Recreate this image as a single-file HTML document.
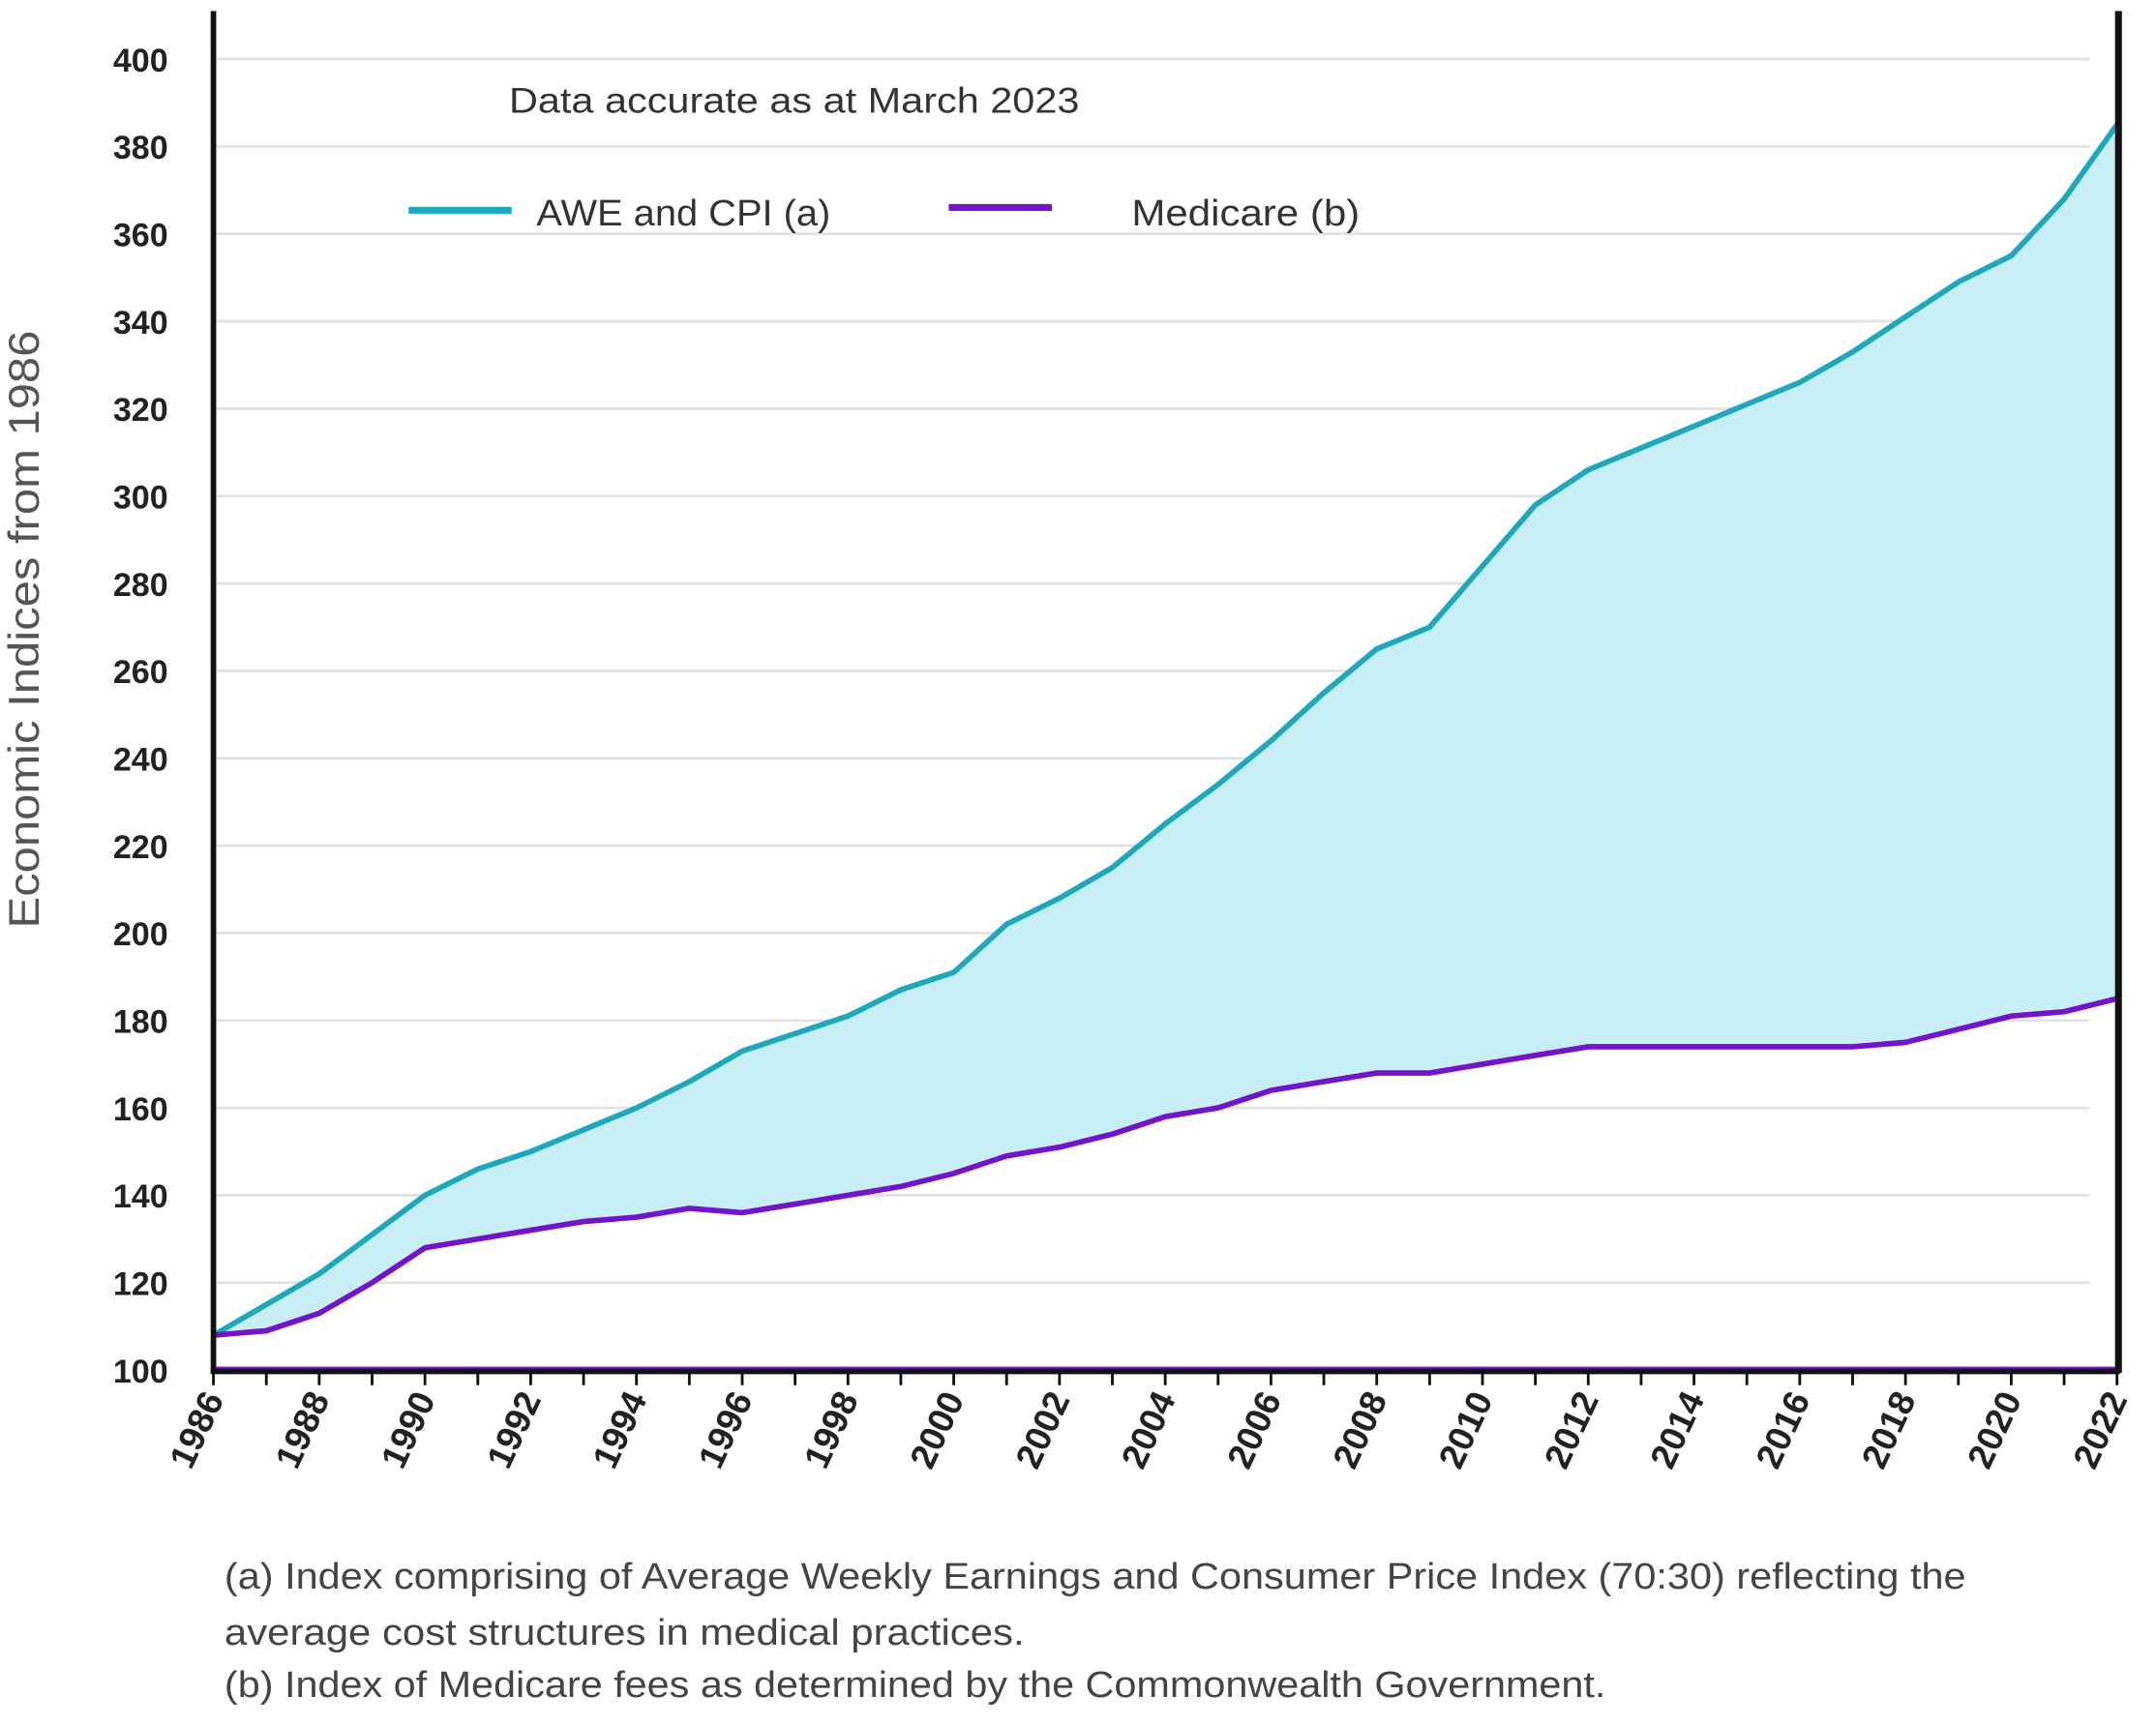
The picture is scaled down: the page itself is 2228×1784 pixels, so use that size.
<!DOCTYPE html>
<html><head><meta charset="utf-8"><style>
html,body{margin:0;padding:0;background:#fff;}
svg{display:block;}
text{font-family:"Liberation Sans",sans-serif;}
</style></head><body>
<svg id="s" width="2228" height="1784" viewBox="0 0 1568 1256" xmlns="http://www.w3.org/2000/svg">
<rect width="1568" height="1256" fill="#fff"/>
<g id="grid"></g>
<path id="fill" fill="#c9eff6" stroke="none"/>
<path id="awe" fill="none" stroke="#1ea8bb" stroke-width="4" stroke-linejoin="round"/>
<path id="med" fill="none" stroke="#7414c8" stroke-width="4" stroke-linejoin="round"/>
<line x1="155" y1="996" x2="1540" y2="996" stroke="#7414c8" stroke-width="3"/>
<line x1="155" y1="8" x2="155" y2="999" stroke="#111" stroke-width="4"/>
<line x1="153" y1="998" x2="1542" y2="998" stroke="#111" stroke-width="4"/>
<line x1="1541" y1="8" x2="1541" y2="999" stroke="#111" stroke-width="5"/>
<g id="ticks"></g>
<text x="28" y="458" transform="rotate(-90 28 458)" text-anchor="middle" font-size="31" fill="#555" textLength="435" lengthAdjust="spacingAndGlyphs">Economic Indices from 1986</text>
<text x="370" y="82" font-size="26" fill="#333" textLength="415" lengthAdjust="spacingAndGlyphs">Data accurate as at March 2023</text>
<line x1="297" y1="153" x2="372" y2="153" stroke="#1ea8bb" stroke-width="5"/>
<text x="390" y="164" font-size="27" fill="#333" textLength="214" lengthAdjust="spacingAndGlyphs">AWE and CPI (a)</text>
<line x1="690" y1="151" x2="765" y2="151" stroke="#7414c8" stroke-width="5"/>
<text x="823" y="164" font-size="27" fill="#333" textLength="166" lengthAdjust="spacingAndGlyphs">Medicare (b)</text>
<text x="163" y="1156" font-size="27" fill="#444" textLength="1267" lengthAdjust="spacingAndGlyphs">(a) Index comprising of Average Weekly Earnings and Consumer Price Index (70:30) reflecting the</text>
<text x="163" y="1197" font-size="27" fill="#444" textLength="582" lengthAdjust="spacingAndGlyphs">average cost structures in medical practices.</text>
<text x="163" y="1235" font-size="27" fill="#444" textLength="1005" lengthAdjust="spacingAndGlyphs">(b) Index of Medicare fees as determined by the Commonwealth Government.</text>
</svg>
<script>
var X=function(yr){return 155+(yr-1986)*38.47;};
var Y=function(v){return 997-(v-100)*3.18;};
var awe=[108,115,122,131,140,146,150,155,160,166,173,177,181,187,191,202,208,215,225,234,244,255,265,270,284,298,306,311,316,321,326,333,341,349,355,368,385];
var med=[108,109,113,120,128,130,132,134,135,137,136,138,140,142,145,149,151,154,158,160,164,166,168,168,170,172,174,174,174,174,174,174,175,178,181,182,185];
var NS="http://www.w3.org/2000/svg";
function el(t,a,p,txt){var e=document.createElementNS(NS,t);for(var k in a)e.setAttribute(k,a[k]);if(txt)e.textContent=txt;p.appendChild(e);return e;}
var g=document.getElementById('grid'),tk=document.getElementById('ticks');
for(var v=120;v<=400;v+=20){el('line',{x1:155,x2:1520,y1:Y(v),y2:Y(v),stroke:'#e2e2e2','stroke-width':2},g);}
for(var v=100;v<=400;v+=20){el('text',{x:122,y:Y(v)+9,'text-anchor':'end','font-size':24,'font-weight':'bold',fill:'#222'},tk,String(v));}
for(var yr=1986;yr<=2022;yr++){el('line',{x1:X(yr),x2:X(yr),y1:998,y2:1008,stroke:'#111','stroke-width':2},tk);
 if(yr%2==0){var x=X(yr)+8,y=1018;el('text',{x:x,y:y,'text-anchor':'end','font-size':26,'font-weight':'bold',fill:'#222',transform:'rotate(-65 '+x+' '+y+')'},tk,String(yr));}}
function pts(a){return a.map(function(v,i){return X(1986+i).toFixed(1)+','+Y(v).toFixed(1);});}
var pa=pts(awe),pm=pts(med);
document.getElementById('awe').setAttribute('d','M'+pa.join('L'));
document.getElementById('med').setAttribute('d','M'+pm.join('L'));
document.getElementById('fill').setAttribute('d','M'+pa.join('L')+'L'+pm.reverse().join('L')+'Z');
</script>
</body></html>
